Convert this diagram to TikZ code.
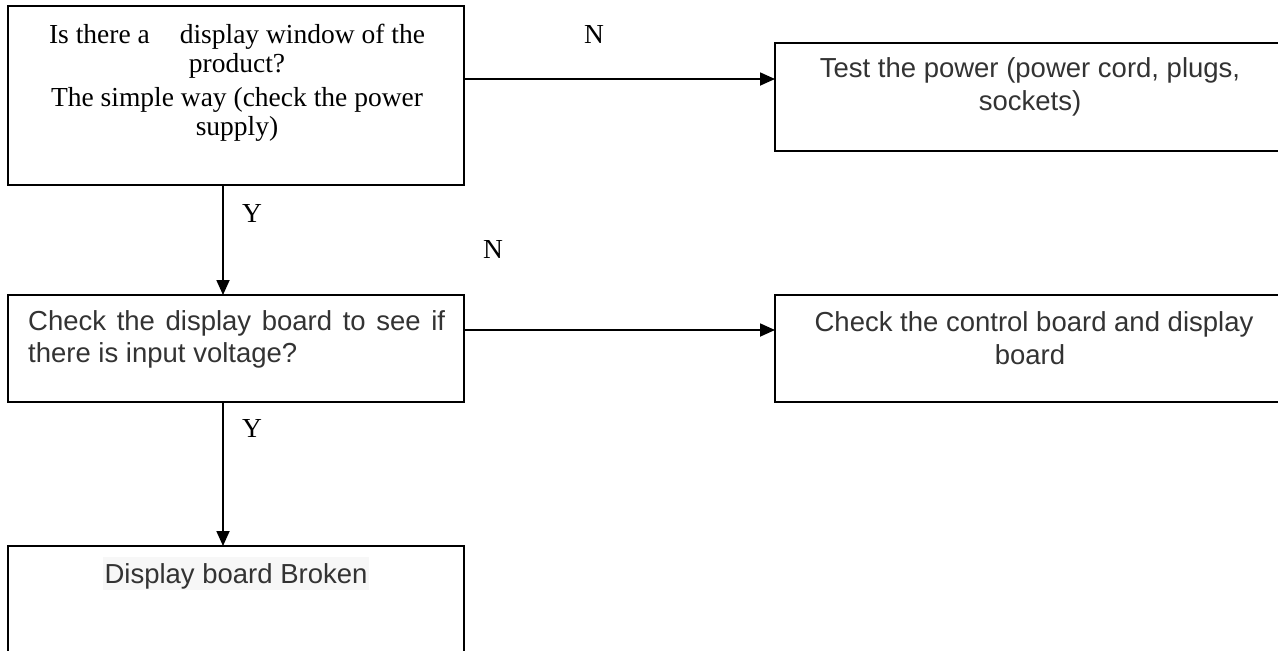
\documentclass[tikz,border=0pt]{standalone}
\usepackage{fontspec}
\setmainfont{Liberation Serif}
\newfontfamily\arialf{Liberation Sans}
\usetikzlibrary{arrows.meta}
\definecolor{txtgray}{HTML}{333333}
\definecolor{hl}{HTML}{F7F7F7}
\begin{document}
\begin{tikzpicture}[x=1pt,y=-1pt,
  box/.style={draw=black,line width=1.8pt,inner sep=0pt,outer sep=0pt,rectangle},
  serif/.style={font=\fontsize{27.5}{31}\selectfont,inner sep=0pt,anchor=base,text=black},
  sans/.style={font=\arialf\fontsize{27.5}{31}\selectfont,inner sep=0pt,anchor=base,text=txtgray},
  arr/.style={line width=1.8pt,-{Triangle[length=15pt,width=13pt]}}]
\useasboundingbox (0,0) rectangle (1278,651);
\clip (0,0) rectangle (1278,651);
\fill[white] (0,0) rectangle (1278,651);
% boxes
\node[box,minimum width=456pt,minimum height=179pt] (b1) at (236,95.5) {};
\node[box,minimum width=510pt,minimum height=108pt] (b2) at (1030,97) {};
\node[box,minimum width=456pt,minimum height=107pt] (b3) at (236,348.5) {};
\node[box,minimum width=510pt,minimum height=107pt] (b4) at (1030,348.5) {};
\node[box,minimum width=456pt,minimum height=160pt] (b5) at (236,626) {};
% texts
\node[serif] (t1a) at (237,43) {Is there a\hspace{30pt}display window of the};
\node[serif] (t1b) at (237,72) {product?};
\node[serif] (t1c) at (237,106) {The simple way (check the power};
\node[serif] (t1d) at (237,135) {supply)};
\node[sans] (t2a) at (1030,77) {Test the power (power cord, plugs,};
\node[sans] (t2b) at (1030,110) {sockets)};
\node[sans,anchor=base west] (t3a) at (28,330) {\makebox[417pt][s]{Check the display board to see if}};
\node[sans,anchor=base west] (t3b) at (28,362) {there is input voltage?};
\node[sans] (t4a) at (1034,331) {Check the control board and display};
\node[sans] (t4b) at (1030,364) {board};
\node[sans,fill=hl,inner xsep=1.5pt,inner ysep=0pt,text height=26pt,text depth=7pt] (t5) at (236,583) {Display board Broken};
% connectors
\draw[arr] ([yshift=16.5pt]b1.east) -- ([yshift=16.5pt]b1.east -| b2.west);
\draw[arr] ([yshift=18.5pt]b3.east) -- ([yshift=18.5pt]b3.east -| b4.west);
\draw[arr] ([xshift=-13pt]b1.south) -- ([xshift=-13pt]b1.south |- b3.north);
\draw[arr] ([xshift=-13pt]b3.south) -- ([xshift=-13pt]b3.south |- b5.north);
% labels
\node[serif] (n1) at (594,43) {N};
\node[serif] (n2) at (493,258) {N};
\node[serif] (y1) at (252,222) {Y};
\node[serif] (y2) at (252,437) {Y};
\end{tikzpicture}
\end{document}
